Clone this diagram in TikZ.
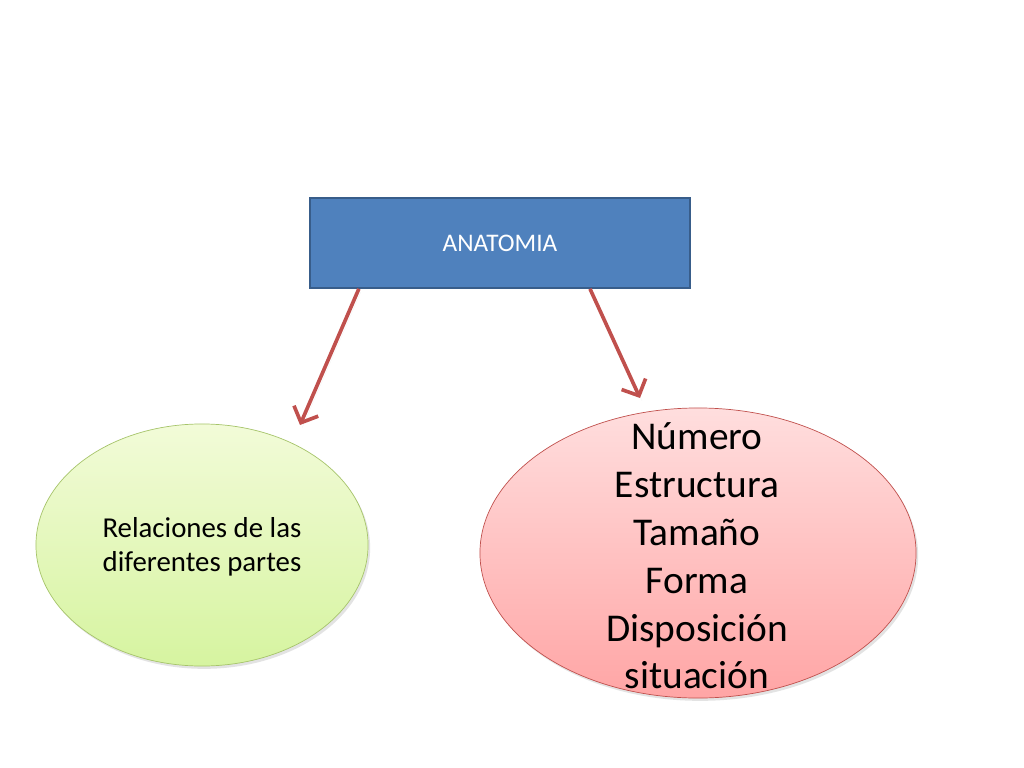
\documentclass[tikz,border=0pt]{standalone}
\usepackage{fontspec}
\setmainfont{Carlito}
\usetikzlibrary{arrows.meta,shapes.geometric,shadows}

\definecolor{boxblue}{HTML}{4F81BD}
\definecolor{boxedge}{HTML}{385D8A}
\definecolor{arrowred}{HTML}{C0504D}
\definecolor{greentop}{HTML}{F2FBD8}
\definecolor{greenbot}{HTML}{D6F4A0}
\definecolor{greenedge}{HTML}{A6C46A}
\definecolor{redtop}{HTML}{FFDEDE}
\definecolor{redbot}{HTML}{FFA5A5}

\tikzset{
  softshadow/.style={drop shadow={shadow xshift=1.5pt, shadow yshift=-2pt, opacity=0.18, fill=black!60}},
  topicbox/.style={rectangle, draw=boxedge, line width=1.2pt, fill=boxblue,
    minimum width=9.5cm, minimum height=2.25cm, text=white, font=\fontsize{18}{21}\selectfont},
  greenoval/.style={ellipse, draw=greenedge, line width=0.5pt, top color=greentop, bottom color=greenbot,
    minimum width=8.3cm, minimum height=6.05cm, inner sep=0pt, softshadow},
  redoval/.style={ellipse, draw=arrowred, line width=0.5pt, top color=redtop, bottom color=redbot,
    minimum width=10.9cm, minimum height=7.25cm, inner sep=0pt, softshadow},
  link/.style={->, draw=arrowred, line width=2.6pt, softshadow}
}

\begin{document}
\begin{tikzpicture}[x=0.025cm, y=-0.025cm, >={Straight Barb[length=3.2mm, width=6.6mm]}]

  \useasboundingbox (0, 0) rectangle (1024, 768);

  \node[topicbox] (anatomia) at (500, 243) {ANATOMIA};

  \node[greenoval] (relaciones) at (202, 545) {};
  \node[align=center, font=\fontsize{20.5}{24.5}\selectfont] (relacionestext) at (202, 547) {%
    Relaciones de las \\ diferentes partes};

  \node[redoval] (aspectos) at (698, 553) {};
  \node[align=center, font=\fontsize{28}{34}\selectfont] (aspectostext) at (697, 556) {%
    Número \\ Estructura \\ Tamaño \\ Forma \\ Disposición \\ situación};

  \coordinate (lefttip) at (300, 425);
  \coordinate (righttip) at (640, 398);

  \draw[link] (anatomia.-162.8) -- (lefttip);
  \draw[link] (anatomia.-27.9) -- (righttip);

\end{tikzpicture}
\end{document}
